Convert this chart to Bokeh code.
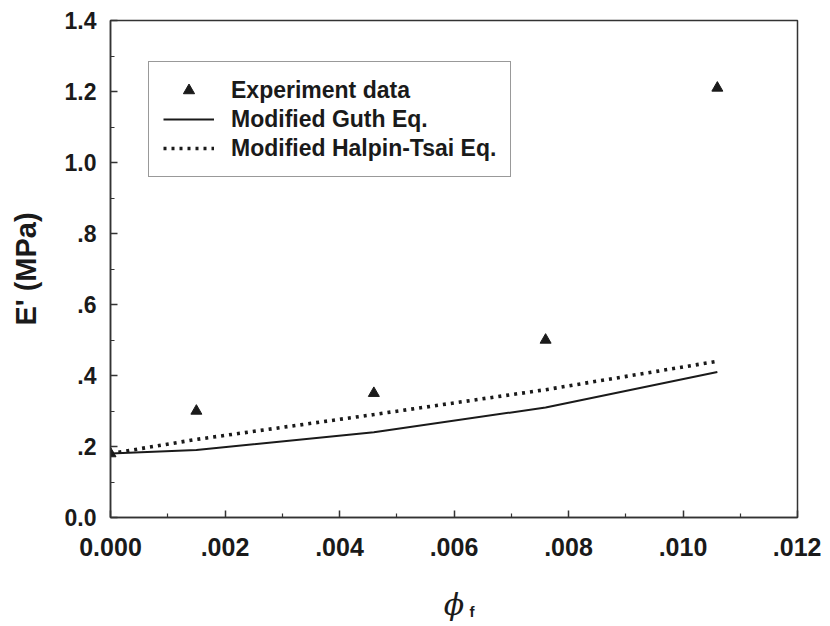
from bokeh.plotting import figure
from bokeh.models import FixedTicker, Legend, LegendItem, Range1d
from bokeh.layouts import column
from bokeh.core.properties import value
from bokeh.embed import file_html
from bokeh.resources import INLINE

# ---- data ----
phi_exp = [0.0, 0.0015, 0.0046, 0.0076, 0.0106]
E_exp = [0.18, 0.30, 0.35, 0.50, 1.21]

phi_model = [0.0, 0.0015, 0.0046, 0.0076, 0.0106]
E_guth = [0.18, 0.19, 0.24, 0.31, 0.41]
E_halpin = [0.18, 0.22, 0.29, 0.36, 0.44]

x_ticks = [0.0, 0.002, 0.004, 0.006, 0.008, 0.010, 0.012]
x_tick_labels = ["0.000", ".002", ".004", ".006", ".008", ".010", ".012"]
x_minor = [0.001, 0.003, 0.005, 0.007, 0.009, 0.011]
y_ticks = [0.0, 0.2, 0.4, 0.6, 0.8, 1.0, 1.2, 1.4]
y_tick_labels = ["0.0", ".2", ".4", ".6", ".8", "1.0", "1.2", "1.4"]
y_minor = [0.1, 0.3, 0.5, 0.7, 0.9, 1.1, 1.3]

x_title = "\u03d5"
x_title_sub = "f"
y_title = "E' (MPa)"

FONT = "Liberation Sans"
INK = "#1a1a1a"

xr = Range1d(0, 0.012)

p = figure(frame_width=687, frame_height=497,
           min_border_left=110, min_border_right=24,
           min_border_top=20, min_border_bottom=56,
           x_range=xr, y_range=Range1d(0, 1.4),
           output_backend="svg", toolbar_location=None,
           background_fill_color="white", border_fill_color="white")

p.xgrid.visible = False
p.ygrid.visible = False
p.outline_line_color = "#333333"
p.outline_line_width = 1.5
p.outline_line_alpha = 1.0

p.xaxis.ticker = FixedTicker(ticks=x_ticks, minor_ticks=x_minor)
p.yaxis.ticker = FixedTicker(ticks=y_ticks, minor_ticks=y_minor)
p.xaxis.major_label_overrides = {t: l for t, l in zip(x_ticks, x_tick_labels)}
p.yaxis.major_label_overrides = {t: l for t, l in zip(y_ticks, y_tick_labels)}

for ax in (p.xaxis, p.yaxis):
    ax.axis_line_color = "#333333"
    ax.axis_line_width = 1.5
    ax.major_tick_line_color = "#333333"
    ax.minor_tick_line_color = "#333333"
    ax.major_tick_line_width = 1.5
    ax.minor_tick_line_width = 1.2
    ax.major_tick_in = 7
    ax.major_tick_out = 0
    ax.minor_tick_in = 4
    ax.minor_tick_out = 0
    ax.major_label_text_font = FONT
    ax.major_label_text_font_style = "bold"
    ax.major_label_text_color = INK
    ax.axis_label_text_color = INK

p.xaxis.major_label_text_font_size = "25px"
p.yaxis.major_label_text_font_size = "23px"
p.xaxis.major_label_standoff = 20
p.yaxis.major_label_standoff = 14

p.yaxis.axis_label = y_title
p.yaxis.axis_label_text_font = FONT
p.yaxis.axis_label_text_font_style = "bold"
p.yaxis.axis_label_text_font_size = "29px"
p.yaxis.axis_label_standoff = 20

# ---- series ----
r_halpin = p.line(phi_model, E_halpin, line_color=INK, line_width=3.6,
                  line_dash="3 5")
r_guth = p.line(phi_model, E_guth, line_color=INK, line_width=2)
r_exp = p.scatter(phi_exp, E_exp, marker="triangle", size=11,
                  fill_color=INK, line_color=INK)

legend = Legend(items=[
    LegendItem(label="Experiment data", renderers=[r_exp]),
    LegendItem(label="Modified Guth Eq.", renderers=[r_guth]),
    LegendItem(label="Modified Halpin-Tsai Eq.", renderers=[r_halpin]),
], location=(38, 340))
legend.border_line_color = "#333333"
legend.border_line_width = 1.5
legend.background_fill_color = "white"
legend.background_fill_alpha = 1.0
legend.label_text_font = FONT
legend.label_text_font_style = "bold"
legend.label_text_font_size = "23px"
legend.label_text_color = INK
legend.glyph_width = 51
legend.glyph_height = 28
legend.label_height = 28
legend.label_standoff = 17
legend.spacing = 1
legend.padding = 14
legend.margin = 0
p.add_layout(legend)

# ---- x-axis title strip (phi with subscript f) ----
q = figure(frame_width=687, frame_height=52,
           min_border_left=110, min_border_right=24,
           min_border_top=0, min_border_bottom=0,
           x_range=xr, y_range=Range1d(0, 1),
           x_axis_location=None, y_axis_location=None,
           output_backend="svg", toolbar_location=None,
           background_fill_color="white", border_fill_color="white")
q.xgrid.visible = False
q.ygrid.visible = False
q.outline_line_color = None
q.text(x=[0.0060], y=[0.40], text=[x_title], text_font=value("DejaVu Serif"),
       text_font_style="italic", text_font_size="30px", text_color=INK,
       text_align="center", text_baseline="middle")
q.text(x=[0.00627], y=[0.26], text=[x_title_sub], text_font=value(FONT),
       text_font_style="bold", text_font_size="15px", text_color=INK,
       text_align="left", text_baseline="middle")

layout = column(p, q, spacing=0)
open("out.html", "w").write(file_html(layout, INLINE))
